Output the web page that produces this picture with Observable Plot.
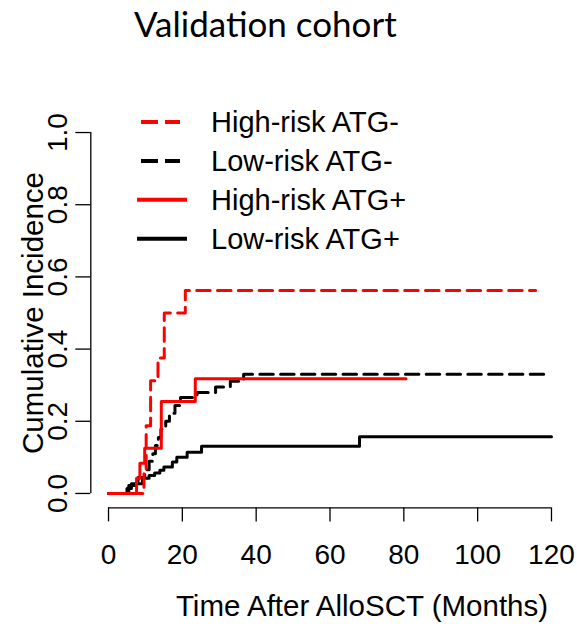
<!DOCTYPE html>
<html><head><meta charset="utf-8">
<script src="https://cdn.jsdelivr.net/npm/d3@7"></script>
<script src="https://cdn.jsdelivr.net/npm/@observablehq/plot@0.6"></script>
<style>
body{margin:0;background:#fff;}
#wrap{position:relative;width:577px;height:630px;overflow:hidden;}
#title{height:60px;}
#legend{position:absolute;left:0;top:0;pointer-events:none;}
</style></head><body><div id="wrap"><div id="title"></div></div>
<script>
const titleText = "Validation cohort";
const xLabel = "Time After AlloSCT (Months)";
const yLabel = "Cumulative Incidence";
const xTicks = [0, 20, 40, 60, 80, 100, 120];
const yTicks = [0, 0.2, 0.4, 0.6, 0.8, 1.0];

const seriesNames = ["High-risk ATG-", "Low-risk ATG-", "High-risk ATG+", "Low-risk ATG+"];
const seriesColors = ["#ff0000", "#000000", "#ff0000", "#000000"];
const seriesDashed = [true, true, false, false];

// High-risk ATG- (red dashed)
const highNegTime = [0, 9.6, 10.2, 11.4, 13.4, 15.1, 20.8, 115.7];
const highNegCI   = [0, 0.0625, 0.1875, 0.3125, 0.375, 0.5, 0.5625, 0.5625];
// Low-risk ATG- (black dashed)
const lowNegTime = [0, 5.5, 8, 9.8, 11, 12, 12.7, 13.5, 14.2, 15.5, 16.5, 18, 19.5, 24, 29, 33, 36.6, 119.7];
const lowNegCI   = [0, 0.022, 0.044, 0.066, 0.089, 0.11, 0.133, 0.155, 0.178, 0.2, 0.222, 0.244, 0.266, 0.28, 0.295, 0.311, 0.33, 0.33];
// High-risk ATG+ (red solid)
const highPosTime = [0, 7.6, 8.5, 9.8, 14.3, 23.5, 80.6];
const highPosCI   = [0, 0.042, 0.084, 0.125, 0.255, 0.318, 0.318];
// Low-risk ATG+ (black solid)
const lowPosTime = [0, 5, 6.2, 9.2, 11, 12.5, 13.9, 15, 17.3, 18.5, 21.3, 25.2, 68, 120];
const lowPosCI   = [0, 0.014, 0.027, 0.042, 0.05, 0.057, 0.064, 0.073, 0.087, 0.1, 0.114, 0.131, 0.157, 0.157];

const seriesTimes = [highNegTime, lowNegTime, highPosTime, lowPosTime];
const seriesCI = [highNegCI, lowNegCI, highPosCI, lowPosCI];

const rowsFor = i => seriesTimes[i].map((t, j) => ({series: seriesNames[i], t, ci: seriesCI[i][j]}));

// R-style 4% axis expansion
const xExt = d3.extent(xTicks), yExt = d3.extent(yTicks);
const xPad = 0.04 * (xExt[1] - xExt[0]), yPad = 0.04 * (yExt[1] - yExt[0]);
const xDomain = [xExt[0] - xPad, xExt[1] + xPad];
const yDomain = [yExt[0] - yPad, yExt[1] + yPad];

const FONT = "Liberation Sans, Arial, Helvetica, sans-serif";
const dashPattern = "13.5,7.3";
const drawOrder = [3, 1, 0, 2];

const lineMarks = drawOrder.map(i => Plot.line(rowsFor(i), {
  x: "t", y: "ci", curve: "step-after",
  stroke: seriesColors[i], strokeWidth: 3,
  strokeDasharray: seriesDashed[i] ? dashPattern : null
}));

const chart = Plot.plot({
  width: 577, height: 570,
  marginLeft: 90.3, marginRight: 8.3, marginTop: 57.6, marginBottom: 122.6,
  x: {domain: xDomain, axis: null},
  y: {domain: yDomain, axis: null},
  style: {fontFamily: FONT, background: "white", color: "black", overflow: "visible"},
  marks: [
    Plot.ruleY([yDomain[0]], {x1: xExt[0], x2: xExt[1], strokeWidth: 1.3}),
    Plot.ruleX([xDomain[0]], {y1: yExt[0], y2: yExt[1], strokeWidth: 1.3}),
    Plot.axisX(xTicks, {anchor: "bottom", tickSize: 14, tickPadding: 22, fontSize: 28, label: null, strokeWidth: 1.3}),
    Plot.axisY(yTicks, {anchor: "left", tickSize: 15, tickFormat: () => "", label: null, strokeWidth: 1.3}),
    Plot.text(yTicks, {y: d => d, text: d => d3.format(".1f")(d), frameAnchor: "left", textAnchor: "middle", lineAnchor: "middle", dx: -33, rotate: -90, fontSize: 28}),
    Plot.text([xLabel], {frameAnchor: "bottom", textAnchor: "middle", lineAnchor: "middle", dx: 32, dy: 99, fontSize: 29.5}),
    Plot.text([yLabel], {frameAnchor: "left", textAnchor: "middle", lineAnchor: "middle", dx: -57, rotate: -90, fontSize: 29.5}),
    ...lineMarks
  ]
});
document.getElementById("wrap").appendChild(chart);

// Title
const tsvg = d3.select("#title").append("svg").attr("width", 577).attr("height", 60);
tsvg.append("text").attr("x", 134).attr("y", 37)
  .attr("font-family", "Lato, 'Open Sans', sans-serif").attr("font-size", 35)
  .text(titleText);

// Legend (overlay)
const legendTop = 122, rowGap = 38.9;
const lg = d3.select("#wrap").append("svg").attr("id", "legend").attr("width", 577).attr("height", 630);
[0, 1, 2, 3].forEach(i => {
  const y = legendTop + i * rowGap;
  lg.append("line")
    .attr("x1", seriesDashed[i] ? 141 : 137).attr("x2", seriesDashed[i] ? 180 : 187)
    .attr("y1", y).attr("y2", y)
    .attr("stroke", seriesColors[i]).attr("stroke-width", 4)
    .attr("stroke-dasharray", seriesDashed[i] ? "17,7" : null);
  lg.append("text").attr("x", 211).attr("y", y).attr("dy", "0.36em")
    .attr("font-family", FONT).attr("font-size", 29).text(seriesNames[i]);
});
</script></body></html>
